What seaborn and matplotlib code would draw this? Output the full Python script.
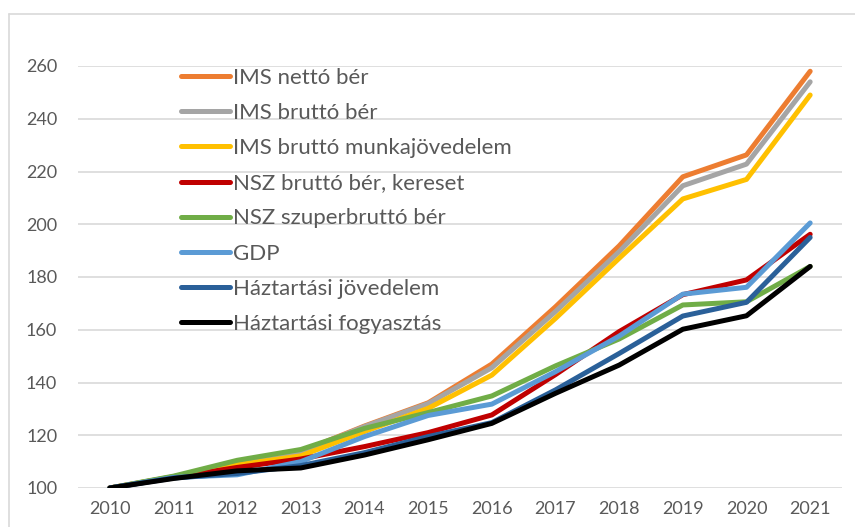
import matplotlib
matplotlib.use('Agg')
from matplotlib import pyplot as plt
from matplotlib.lines import Line2D
import seaborn as sns
import pandas as pd

sns.set_style('white')
plt.rcParams['font.family'] = ['Lato', 'DejaVu Sans']

years = list(range(2010, 2022))

series_names = ['IMS nettó bér', 'IMS bruttó bér', 'IMS bruttó munkajövedelem',
                'NSZ bruttó bér, kereset', 'NSZ szuperbruttó bér', 'GDP',
                'Háztartási jövedelem', 'Háztartási fogyasztás']

ims_netto = [100, 104.3, 109.3, 113.8, 123.5, 132.3, 147.0, 168.7, 191.8, 218.0, 226.3, 258.0]
ims_brutto = [100, 104.3, 109.2, 113.6, 123.3, 132.0, 145.6, 166.9, 189.6, 214.6, 222.8, 254.0]
ims_munkajov = [100, 104.2, 108.8, 112.2, 121.4, 130.2, 142.8, 164.3, 187.1, 209.6, 217.0, 249.0]
nsz_brutto = [100, 104.0, 107.8, 111.0, 115.7, 121.0, 127.7, 143.0, 159.3, 173.3, 178.9, 196.2]
nsz_szuper = [100, 104.5, 110.5, 114.6, 122.6, 128.6, 134.9, 146.3, 156.5, 169.4, 170.6, 184.0]
gdp = [100, 104.0, 105.0, 110.0, 119.5, 127.5, 131.8, 144.1, 157.6, 173.5, 176.1, 200.5]
hazt_jov = [100, 103.8, 105.5, 108.5, 113.4, 119.5, 124.8, 137.2, 151.0, 165.2, 170.4, 195.0]
hazt_fogy = [100, 103.6, 106.5, 107.6, 112.5, 118.3, 124.5, 135.9, 146.6, 160.2, 165.3, 184.0]

colors = ['#ED7D31', '#A5A5A5', '#FFC000', '#C00000', '#70AD47', '#5B9BD5', '#2A6099', '#000000']

values = [ims_netto, ims_brutto, ims_munkajov, nsz_brutto, nsz_szuper, gdp, hazt_jov, hazt_fogy]
df = pd.concat([pd.DataFrame({'year': years, 'value': v, 'series': n})
                for n, v in zip(series_names, values)], ignore_index=True)

W, H = 855, 527
fig = plt.figure(figsize=(W / 100, H / 100), dpi=100)
ax = fig.add_axes([78 / W, 1 - 488 / H, (842 - 78) / W, (488 - 66) / H])

sns.lineplot(data=df, x='year', y='value', hue='series', hue_order=series_names,
             palette=colors, linewidth=3.6, ax=ax, legend=False,
             solid_capstyle='round', solid_joinstyle='round', zorder=3)

ax.set_xlim(2009.5, 2021.5)
ax.set_ylim(100, 260)
ax.set_xticks(years)
ax.set_yticks(range(100, 261, 20))
ax.grid(axis='y', color='#D9D9D9', linewidth=1.2, zorder=0)
ax.set_axisbelow(True)
for s in ax.spines.values():
    s.set_visible(False)
ax.set_xlabel('')
ax.set_ylabel('')
ax.tick_params(axis='both', length=0, labelsize=13, labelcolor='#595959')
ax.tick_params(axis='y', pad=15)
ax.tick_params(axis='x', pad=9)

handles = [Line2D([], [], color=c, linewidth=3.6, solid_capstyle='round') for c in colors]
leg = fig.legend(handles, series_names, loc='upper left',
                 bbox_to_anchor=(181 / W, 1 - 68 / H), frameon=False,
                 fontsize=16, handlelength=2.2, handletextpad=0.15,
                 labelspacing=0.68, borderpad=0, borderaxespad=0)
for t in leg.get_texts():
    t.set_color('#595959')

# chart border (Excel-style)
fig.add_artist(Line2D([9 / W, 1], [1 - 14 / H, 1 - 14 / H], transform=fig.transFigure,
                      color='#D9D9D9', linewidth=1.2))
fig.add_artist(Line2D([9 / W, 9 / W], [0, 1 - 14 / H], transform=fig.transFigure,
                      color='#D9D9D9', linewidth=1.2))

plt.savefig('out.png', dpi=100)
